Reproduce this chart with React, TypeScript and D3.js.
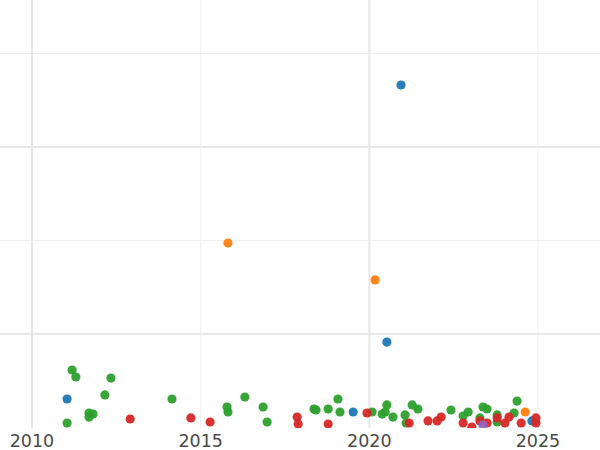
import React from "react";
import * as d3 from "d3";

// Year (x) and value (y, in grid units) for each series
const greenYears = [2011.19, 2011.30, 2012.34, 2012.16, 2011.04, 2011.69, 2011.81, 2011.69, 2014.15, 2015.78, 2015.81, 2016.31, 2016.85, 2016.97, 2018.36, 2018.42, 2018.78, 2019.07, 2019.13, 2020.08, 2020.38, 2020.47, 2020.52, 2020.70, 2021.06, 2021.09, 2021.27, 2021.44, 2022.42, 2022.78, 2022.93, 2023.28, 2023.37, 2023.49, 2023.79, 2023.79, 2024.29, 2024.38];
const greenValues = [0.615, 0.540, 0.529, 0.348, 0.048, 0.155, 0.144, 0.112, 0.305, 0.219, 0.166, 0.326, 0.219, 0.059, 0.198, 0.187, 0.198, 0.305, 0.166, 0.166, 0.144, 0.166, 0.241, 0.112, 0.134, 0.048, 0.241, 0.198, 0.187, 0.123, 0.166, 0.102, 0.219, 0.198, 0.134, 0.059, 0.155, 0.283];

const blueYears = [2020.94, 2011.04, 2020.52, 2019.52, 2024.82];
const blueValues = [3.663, 0.305, 0.914, 0.166, 0.070];

const orangeYears = [2015.81, 2020.17, 2024.62];
const orangeValues = [1.973, 1.578, 0.166];

const redYears = [2012.91, 2014.71, 2015.28, 2017.86, 2017.89, 2018.78, 2019.93, 2021.18, 2021.74, 2022.01, 2022.13, 2022.78, 2023.04, 2023.28, 2023.49, 2023.79, 2024.02, 2024.14, 2024.50, 2024.94, 2024.94];
const redValues = [0.091, 0.102, 0.059, 0.112, 0.037, 0.037, 0.155, 0.048, 0.070, 0.070, 0.112, 0.048, 0.005, 0.070, 0.048, 0.102, 0.048, 0.112, 0.048, 0.102, 0.048];

const purpleYears = [2023.37];
const purpleValues = [0.027];

const xMajorTicks = [2010, 2020];
const xMinorTicks = [2015, 2025];
const xTickLabels = [2010, 2015, 2020, 2025];
const yMajorTicks = [1, 3];
const yMinorTicks = [2, 4];

const series = [
  { years: greenYears, values: greenValues, color: "#2ca02c" },
  { years: blueYears, values: blueValues, color: "#1f77b4" },
  { years: orangeYears, values: orangeValues, color: "#ff7f0e" },
  { years: redYears, values: redValues, color: "#d62728" },
  { years: purpleYears, values: purpleValues, color: "#9467bd" },
];

export default function App() {
  const W = 600, H = 450;
  const plotBottom = 428;
  const x = d3.scaleLinear().domain([2010, 2025]).range([32, 538]);
  const y = d3.scaleLinear().domain([0, 1]).range([427.5, 334]);

  return (
    <svg width={W} height={H} style={{ position: "absolute", left: 0, top: 0, background: "#fff" }}>
      <defs>
        <clipPath id="plotClip">
          <rect x={0} y={0} width={W} height={plotBottom} />
        </clipPath>
      </defs>
      <g clipPath="url(#plotClip)">
        {yMinorTicks.map((t) => (
          <line key={"ym" + t} x1={0} x2={W} y1={y(t)} y2={y(t)} stroke="#efefef" strokeWidth={1} />
        ))}
        {xMinorTicks.map((t) => (
          <line key={"xm" + t} x1={x(t)} x2={x(t)} y1={0} y2={plotBottom} stroke="#efefef" strokeWidth={1} />
        ))}
        {yMajorTicks.map((t) => (
          <line key={"yM" + t} x1={0} x2={W} y1={y(t)} y2={y(t)} stroke="#e8e8e8" strokeWidth={2} />
        ))}
        {xMajorTicks.map((t) => (
          <line key={"xM" + t} x1={x(t)} x2={x(t)} y1={0} y2={plotBottom} stroke="#e8e8e8" strokeWidth={2} />
        ))}
        {series.map((s, si) =>
          s.years.map((yr, i) => (
            <circle key={si + "-" + i} cx={x(yr)} cy={y(s.values[i])} r={4.6} fill={s.color} fillOpacity={0.95} />
          ))
        )}
      </g>
      {xTickLabels.map((t) => (
        <text key={"l" + t} x={x(t)} y={447} textAnchor="middle" fontFamily="DejaVu Sans" fontSize={17.5} fill="#4a4a4a">
          {t}
        </text>
      ))}
    </svg>
  );
}
